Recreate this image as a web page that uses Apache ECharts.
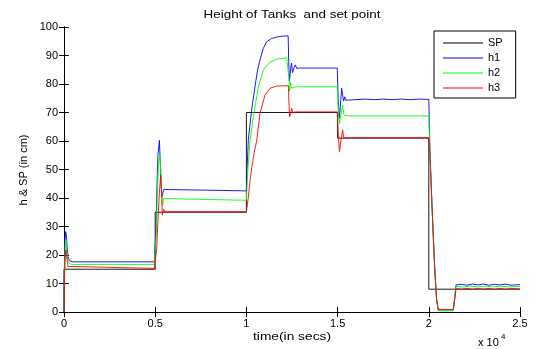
<!DOCTYPE html>
<html>
<head>
<meta charset="utf-8">
<script src="https://cdn.jsdelivr.net/npm/echarts@6/dist/echarts.min.js"></script>
<style>html,body{margin:0;padding:0;background:#fff;}#c{width:535px;height:349px;}</style>
</head>
<body>
<div id="c"></div>
<script>
// time (s), values (cm)
var seriesNames = ['SP', 'h1', 'h2', 'h3'];
var xTicks = [0, 5000, 10000, 15000, 20000, 25000];

var SP = [[0,0],[0,15],[5000,15],[5000,35],[10000,35],[10000,70],[15000,70],[15000,61],[20000,61],[20000,8],[25000,8]];

var h1 = [[0,0],[20,15],[50,25],[90,28.2],[130,27],[170,23],[220,19.5],[300,18],[450,17.6],[4950,17.6],[5000,18],[5050,30],[5100,45],[5150,55],[5230,60.2],[5280,52],[5330,44],[5380,40.5],[5430,42],[5480,43],[5550,42.5],[10000,42.5],[10050,52],[10105,60.4],[10200,66],[10288,70.9],[10470,79],[10600,84.5],[10745,88.4],[10927,92.5],[11110,94.8],[11384,96],[11750,96.6],[12000,96.8],[12290,96.9],[12320,88],[12360,81],[12420,85],[12470,87.3],[12530,84],[12600,85.5],[12680,86.7],[12760,85.5],[12900,85.6],[14980,85.6],[15030,75],[15090,68],[15150,72],[15220,78.5],[15276,79],[15330,74],[15390,75.5],[15450,74.3],[15550,74.7],[16000,74.5],[16500,74.7],[17000,74.5],[17500,74.7],[18000,74.5],[18500,74.7],[19000,74.5],[19500,74.7],[20000,74.6],[20030,66],[20064,55.7],[20155,40.5],[20247,26.4],[20338,13.6],[20430,4.2],[20521,0.7],[21340,0.7],[21420,5],[21490,9.5],[21800,9.7],[22100,9.4],[22400,9.8],[22700,9.5],[23000,9.8],[23300,9.4],[23600,9.7],[23900,9.5],[24200,9.8],[24500,9.4],[25000,9.6]];

var h2 = [[0,0],[30,15],[70,24],[110,25.3],[150,22],[200,18.5],[300,17],[450,16.7],[4950,16.7],[5000,17],[5060,28],[5120,42],[5180,52],[5260,55.5],[5320,47],[5380,38.5],[5410,37.5],[5460,39.8],[5520,39.2],[10000,39.2],[10080,50],[10196,60],[10380,68.5],[10653,79],[10927,84.9],[11293,87.8],[11750,88.8],[12208,89.2],[12300,89.3],[12330,82],[12370,77.5],[12420,80.5],[12480,78.5],[12550,79.2],[12700,79],[14980,79],[15040,70],[15110,66.2],[15200,70],[15276,72.6],[15350,69.1],[15420,69.5],[15500,68.8],[20000,68.8],[20040,60],[20064,55.7],[20155,40.5],[20247,26.4],[20338,13.6],[20430,4.2],[20521,0.4],[21340,0.4],[21420,4.5],[21490,9],[21900,8.8],[22300,9.1],[22700,8.8],[23100,9.1],[23500,8.8],[23900,9.1],[24300,8.8],[25000,9.0]];

var h3 = [[0,0],[30,12],[70,20],[110,21.8],[150,19],[220,16],[300,15.3],[4950,15.3],[5000,15.5],[5080,22],[5150,32],[5230,42],[5300,48],[5350,42],[5390,34],[5420,33.5],[5470,36],[5530,35.2],[10000,35.2],[10100,40],[10200,46],[10300,51],[10430,56],[10562,60],[10745,69.7],[11019,76.1],[11293,78.5],[11659,79.3],[12300,79.4],[12330,74],[12370,68.5],[12420,69.5],[12480,71.5],[12540,70],[12650,70.2],[14980,70.2],[15040,62],[15100,56.2],[15180,60],[15276,63.9],[15340,61],[15420,61.5],[15500,61.2],[20000,61.2],[20064,55.7],[20155,40.5],[20247,26.4],[20338,13.6],[20430,4.2],[20521,0.9],[21340,0.9],[21420,4.2],[21490,8.2],[21800,8.0],[22100,8.3],[22400,8.0],[22700,8.3],[23000,8.0],[23300,8.3],[23600,8.0],[23900,8.3],[24200,8.0],[24500,8.3],[25000,8.1]];

var colors = ['#000000', '#0000ff', '#00ff00', '#ff0000'];
var FONT = 'Liberation Sans, Arial, sans-serif';

var chart = echarts.init(document.getElementById('c'), null, {renderer: 'canvas'});
var tickStyle = {show: true, inside: true, length: 5, lineStyle: {color: '#000', width: 1}};
var lineStyleAx = {show: true, lineStyle: {color: '#000', width: 1}};
var xLabel = function (v) { return v === 0 ? '0' : String(v / 10000); };

var option = {
  animation: false,
  backgroundColor: '#fff',
  grid: {left: 64, right: 15, top: 27, bottom: 37, containLabel: false},
  xAxis: [
    {type: 'value', min: 0, max: 25000, interval: 5000, position: 'bottom',
      axisLine: lineStyleAx, axisTick: tickStyle, splitLine: {show: false},
      axisLabel: {color: '#000', fontSize: 11, fontFamily: FONT, margin: 6, formatter: xLabel}},
    {type: 'value', min: 0, max: 25000, interval: 5000, position: 'top',
      axisLine: lineStyleAx, axisTick: tickStyle, splitLine: {show: false}, axisLabel: {show: false}}
  ],
  yAxis: [
    {type: 'value', min: 0, max: 100, interval: 10, position: 'left',
      axisLine: lineStyleAx, axisTick: tickStyle, splitLine: {show: false},
      axisLabel: {color: '#000', fontSize: 11, fontFamily: FONT, margin: 6}},
    {type: 'value', min: 0, max: 100, interval: 10, position: 'right',
      axisLine: lineStyleAx, axisTick: tickStyle, splitLine: {show: false}, axisLabel: {show: false}}
  ],
  legend: {
    orient: 'vertical', left: 434, top: 31,
    data: seriesNames.map(function (n, i) {
      return {name: n, icon: 'rect', itemStyle: {color: colors[i], borderWidth: 0, opacity: 1}};
    }),
    itemWidth: 40, itemHeight: 1, itemGap: 2,
    padding: [5.5, 13, 3.5, 9],
    backgroundColor: '#fff', borderColor: '#000', borderWidth: 1,
    textStyle: {color: '#000', fontSize: 11, fontFamily: FONT, lineHeight: 13}
  },
  graphic: [
    {type: 'text', x: 292, y: 15, scaleX: 1.22, style: {text: 'Height of Tanks  and set point', x: 0, y: 0, textAlign: 'center', textVerticalAlign: 'middle', fill: '#000', font: '11px ' + FONT}},
    {type: 'text', x: 292, y: 337, scaleX: 1.25, style: {text: 'time(in secs)', x: 0, y: 0, textAlign: 'center', textVerticalAlign: 'middle', fill: '#000', font: '11px ' + FONT}},
    {type: 'text', x: 24, y: 170, rotation: Math.PI / 2, style: {text: 'h & SP (in cm)', x: 0, y: 0, textAlign: 'center', textVerticalAlign: 'middle', fill: '#000', font: '11px ' + FONT}},
    {type: 'text', style: {text: 'x 10', x: 478, y: 343, textAlign: 'left', textVerticalAlign: 'middle', fill: '#000', font: '11px ' + FONT}},
    {type: 'text', style: {text: '4', x: 501, y: 337, textAlign: 'left', textVerticalAlign: 'middle', fill: '#000', font: '8px ' + FONT}}
  ],
  series: [SP, h1, h2, h3].map(function (d, i) {
    return {
      name: seriesNames[i], type: 'line', data: d, symbol: 'none', showSymbol: false,
      xAxisIndex: 0, yAxisIndex: 0,
      lineStyle: {color: colors[i], width: 0.9}, itemStyle: {color: colors[i]},
      emphasis: {disabled: true}
    };
  })
};
chart.setOption(option);
</script>
</body>
</html>
